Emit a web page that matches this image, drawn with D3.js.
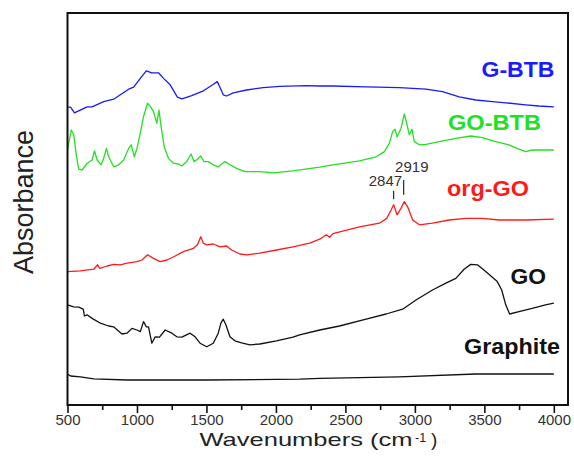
<!DOCTYPE html>
<html><head><meta charset="utf-8">
<script src="https://cdn.jsdelivr.net/npm/d3@7"></script>
<style>body{margin:0;background:#fff}svg{display:block}text{font-family:"Liberation Sans",Arial,sans-serif}</style>
</head><body><svg id="c" width="574" height="457"></svg>
<script>
// ---- data (wavenumber cm-1, absorbance a.u.) ----
const wnGBTB = [500,522,550,641,677,760,832,880,940,976,1024,1067,1107,1155,1191,1239,1291,1323,1394,1478,1545,1578,1597,1621,1645,1693,1789,1908,2028,2219,2315,2408,2650,2888,3080,3199,3319,3438,3557,3654,3797,3892,4000];
const absGBTB = [74.7,74.7,73.3,74.8,74.8,76.1,76.7,77.8,79.2,79.7,81.9,83.8,83.3,83.3,81.9,80.3,77.2,76.8,77.6,78.8,80.3,81.1,79.7,77.8,77.5,78.3,79.0,79.6,79.9,80.1,80.0,80.0,79.8,79.6,79.2,78.6,77.3,76.5,76.1,75.8,75.3,75.0,74.8];

const wnGOBTB = [500,527,545,565,581,605,641,677,694,713,742,760,780,796,808,832,868,904,940,959,981,1000,1024,1047,1076,1100,1119,1143,1158,1174,1196,1227,1262,1298,1323,1358,1389,1411,1435,1459,1483,1513,1549,1585,1633,1669,1717,1777,1884,1980,2123,2315,2410,2601,2721,2781,2817,2840,2857,2872,2900,2924,2941,2960,2979,2996,3032,3080,3175,3295,3403,3486,3582,3677,3749,3797,3844,3916,4000];
const absGOBTB = [64.0,69.0,67.8,62.3,59.2,59.0,60.7,61.5,63.8,61.5,60.3,61.9,64.4,62.3,61.5,59.8,60.3,61.5,64.4,65.3,62.3,64.4,68.2,72.3,75.7,74.7,73.6,70.7,74.0,69.8,64.8,61.9,60.7,60.5,60.0,61.1,63.0,61.1,61.7,62.5,61.1,61.1,60.3,59.8,61.1,60.3,59.4,58.6,58.6,58.3,58.8,59.7,60.3,61.3,62.3,63.6,65.7,68.6,69.2,67.3,69.4,73.0,70.7,67.8,69.2,66.1,65.3,65.4,66.1,66.9,67.5,67.1,66.1,65.3,64.2,63.6,64.0,64.0,64.0];

const wnOrgGO = [500,593,689,717,732,785,832,880,928,1000,1036,1076,1119,1167,1215,1275,1334,1406,1435,1459,1478,1502,1549,1597,1645,1681,1741,1789,1884,2004,2123,2243,2315,2363,2386,2410,2601,2745,2797,2829,2847,2872,2900,2924,2948,2984,3032,3127,3247,3367,3486,3605,3797,4000];
const absOrgGO = [33.6,33.8,34.2,35.3,34.4,35.0,35.4,35.3,35.7,36.1,36.5,37.8,36.9,36.1,36.5,37.5,38.6,39.4,40.3,42.3,40.7,40.3,40.5,39.8,40.0,39.0,38.0,37.8,38.2,39.0,39.8,40.7,41.7,42.8,42.2,43.1,44.8,45.7,46.9,49.0,50.3,47.8,49.4,51.1,49.8,46.5,45.3,45.7,46.5,46.9,46.9,46.5,46.5,46.7];

const wnGO = [500,545,581,613,622,641,677,737,796,832,892,928,964,1000,1024,1047,1067,1083,1107,1131,1162,1203,1251,1287,1323,1382,1418,1454,1502,1549,1585,1604,1621,1640,1669,1705,1753,1813,1884,2004,2123,2171,2315,2458,2649,2793,2912,3008,3127,3223,3295,3354,3402,3450,3510,3593,3625,3654,3682,3749,3844,3940,4000];
const absGO = [25.3,24.8,24.7,24.2,22.5,22.8,21.9,20.7,20.0,19.8,18.0,18.2,19.4,19.0,18.6,21.1,19.8,19.8,15.7,17.3,17.2,19.0,18.2,17.3,17.2,18.2,17.3,15.7,14.8,15.7,18.2,20.7,21.7,20.3,17.3,16.3,15.8,15.3,15.5,16.3,17.2,17.8,19.0,20.0,21.7,23.0,24.2,26.5,29.0,30.7,31.9,34.2,35.4,35.3,33.6,31.1,29.0,25.3,23.0,23.6,24.4,25.3,25.7];

const wnGraphite = [500,522,593,689,928,1500,2171,2315,2888,3438,4000];
const absGraphite = [8.0,7.5,7.3,6.8,6.5,6.5,6.7,6.9,7.3,8.0,8.0];

const seriesNames = ["G-BTB","GO-BTB","org-GO","GO","Graphite"];
const peakLabels = [2847, 2919];
const xTicksMajor = [500,1000,1500,2000,2500,3000,3500,4000];
const xTicksMinor = [750,1250,1750,2250,2750,3250,3750];

// ---- layout ----
const L = 67.5, R = 568, T = 13, B = 405;
const svg = d3.select("#c");
const x = d3.scaleLinear().domain([500, 4102]).range([L, R]);
const y = d3.scaleLinear().domain([0, 98.25]).range([B + 1, T]);

const series = [
  {name: seriesNames[0], wn: wnGBTB, a: absGBTB, color: "#1a1aff"},
  {name: seriesNames[1], wn: wnGOBTB, a: absGOBTB, color: "#22e022"},
  {name: seriesNames[2], wn: wnOrgGO, a: absOrgGO, color: "#ff1a1a"},
  {name: seriesNames[3], wn: wnGO, a: absGO, color: "#111"},
  {name: seriesNames[4], wn: wnGraphite, a: absGraphite, color: "#111"}
];

const line = d3.line().x(d => x(d[0])).y(d => y(d[1]));
const g = svg.append("g");
series.forEach(s => {
  g.append("path")
    .datum(s.wn.map((w, i) => [w, s.a[i]]))
    .attr("fill", "none").attr("stroke", s.color)
    .attr("stroke-width", 1.3).attr("stroke-linejoin", "round")
    .attr("d", line);
});

// frame
svg.append("rect").attr("x", L).attr("y", T).attr("width", R - L).attr("height", B - T)
  .attr("fill", "none").attr("stroke", "#111").attr("stroke-width", 2);

// x axis ticks
const ax = svg.append("g").attr("transform", `translate(0,${B})`);
const axis = d3.axisBottom(x).tickValues(xTicksMajor).tickSize(8).tickPadding(1).tickFormat(d3.format("d"));
ax.call(axis);
ax.select(".domain").remove();
ax.selectAll(".tick line").attr("stroke", "#111").attr("stroke-width", 1.6);
ax.selectAll(".tick text").attr("font-size", 15).attr("fill", "#333")
  .attr("font-family", '"Liberation Sans",Arial,sans-serif');
const axm = svg.append("g").attr("transform", `translate(0,${B})`);
axm.call(d3.axisBottom(x).tickValues(xTicksMinor).tickSize(5).tickFormat(""));
axm.select(".domain").remove();
axm.selectAll(".tick line").attr("stroke", "#111").attr("stroke-width", 1.6);

// axis titles
svg.append("text").attr("x", 199.5).attr("y", 446).attr("font-size", 19).attr("fill", "#222")
  .attr("textLength", 213).attr("lengthAdjust", "spacingAndGlyphs").text("Wavenumbers (cm");
svg.append("text").attr("x", 415).attr("y", 442).attr("font-size", 12.5).attr("fill", "#222").text("-1");
svg.append("text").attr("x", 431).attr("y", 446).attr("font-size", 19).attr("fill", "#222").text(")");
svg.append("text").attr("transform", "translate(33,202) rotate(-90)").attr("text-anchor", "middle")
  .attr("font-size", 27).attr("fill", "#222").text("Absorbance");

// series labels
const labels = [
  {t: seriesNames[0], x: 481.5, y: 77, w: 73, c: "#1a1aff"},
  {t: seriesNames[1], x: 448, y: 130, w: 93, c: "#22e022"},
  {t: seriesNames[2], x: 447, y: 196, w: 82, c: "#ff1a1a"},
  {t: seriesNames[3], x: 510.5, y: 283.5, w: 35.5, c: "#111"},
  {t: seriesNames[4], x: 464, y: 353.5, w: 96, c: "#111"}
];
labels.forEach(l => {
  svg.append("text").attr("x", l.x).attr("y", l.y).attr("font-size", 22).attr("font-weight", "bold")
    .attr("fill", l.c).attr("textLength", l.w).attr("lengthAdjust", "spacingAndGlyphs").text(l.t);
});

// peak annotations
const ann = [
  {wn: peakLabels[0], a0: 51.7, a1: 53.8, tx: 55.0},
  {wn: peakLabels[1], a0: 52.8, a1: 56.5, tx: 58.4}
];
ann.forEach((p, i) => {
  svg.append("line").attr("x1", x(p.wn)).attr("x2", x(p.wn)).attr("y1", y(p.a0)).attr("y2", y(p.a1))
    .attr("stroke", "#333").attr("stroke-width", 1.3);
  svg.append("text").attr("x", i === 0 ? x(p.wn) + 8.5 : x(p.wn) - 8.5).attr("y", y(p.tx))
    .attr("text-anchor", i === 0 ? "end" : "start").attr("font-size", 15).attr("fill", "#333")
    .text(String(p.wn));
});
</script></body></html>
